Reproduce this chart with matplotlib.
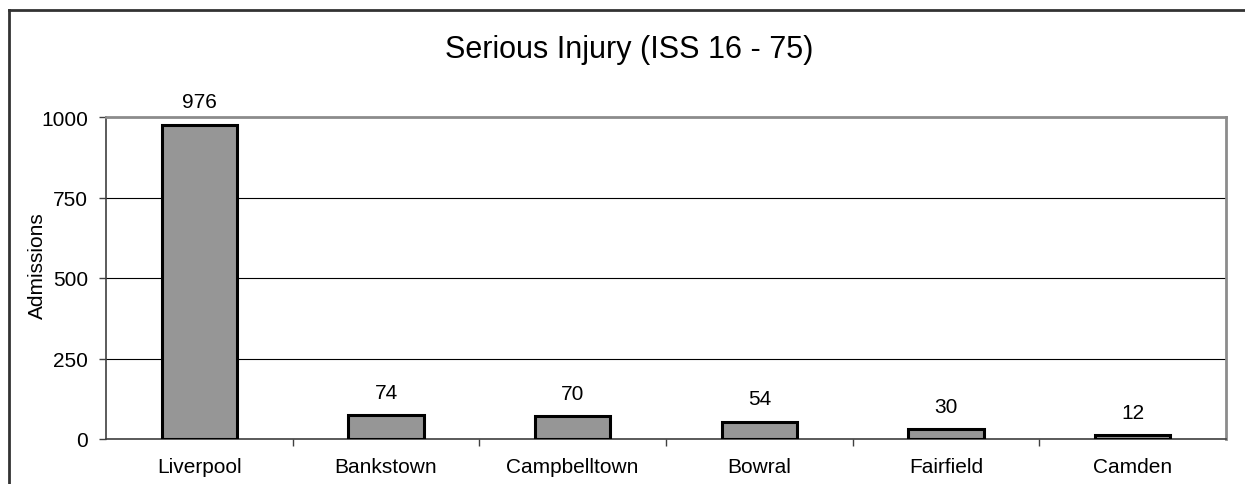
import matplotlib
matplotlib.use("Agg")
import matplotlib.pyplot as plt
from matplotlib.lines import Line2D
import numpy as np

# data
hospitals = ['Liverpool', 'Bankstown', 'Campbelltown', 'Bowral', 'Fairfield', 'Camden']
admissions = [976, 74, 70, 54, 30, 12]
yticks = [0, 250, 500, 750, 1000]

plt.rcParams['font.family'] = ['Liberation Sans', 'DejaVu Sans']

fig = plt.figure(figsize=(12.45, 4.85), dpi=100)
ax = fig.add_axes([106 / 1245, 45 / 485, 1120 / 1245, 322 / 485])

x = np.arange(len(hospitals))
ax.bar(x, admissions, width=0.405, color='#969696', edgecolor='black', linewidth=2.2, zorder=3)

for xi, v in zip(x, admissions):
    ax.text(xi, v + 42, str(v), ha='center', va='bottom', fontsize=15)

ax.set_xlim(-0.5, len(hospitals) - 0.5)
ax.set_ylim(0, 1000)
ax.set_yticks(yticks)
ax.set_yticklabels([str(t) for t in yticks], fontsize=15)
ax.yaxis.grid(True, color='black', linewidth=0.8, zorder=0)

# category labels in the middle, tick marks between categories
ax.set_xticks(x)
ax.set_xticklabels(hospitals, fontsize=15)
ax.tick_params(axis='x', which='major', length=0, pad=13)
ax.set_xticks(np.arange(0.5, len(hospitals) - 0.5, 1), minor=True)
ax.tick_params(axis='x', which='minor', length=5, width=1, direction='out', color='#404040')
ax.tick_params(axis='y', length=5, width=1, direction='out', color='#404040', pad=8)

ax.set_ylabel('Admissions', fontsize=15)
ax.yaxis.set_label_coords(-0.0527, 0.543)

for s in ['top', 'right']:
    ax.spines[s].set_color('#8c8c8c')
    ax.spines[s].set_linewidth(2)
for s in ['left', 'bottom']:
    ax.spines[s].set_color('#404040')
    ax.spines[s].set_linewidth(1.2)

fig.text(629 / 1245, 1 - 50 / 485, 'Serious Injury (ISS 16 - 75)', ha='center', va='center', fontsize=22)

# chart frame
fx0, fy1 = 8.5 / 1245, 1 - 10.5 / 485
fig.add_artist(Line2D([fx0, fx0], [0, fy1], color='#333333', linewidth=2, transform=fig.transFigure))
fig.add_artist(Line2D([fx0, 1], [fy1, fy1], color='#333333', linewidth=2, transform=fig.transFigure))

fig.savefig('out.png', dpi=100)
